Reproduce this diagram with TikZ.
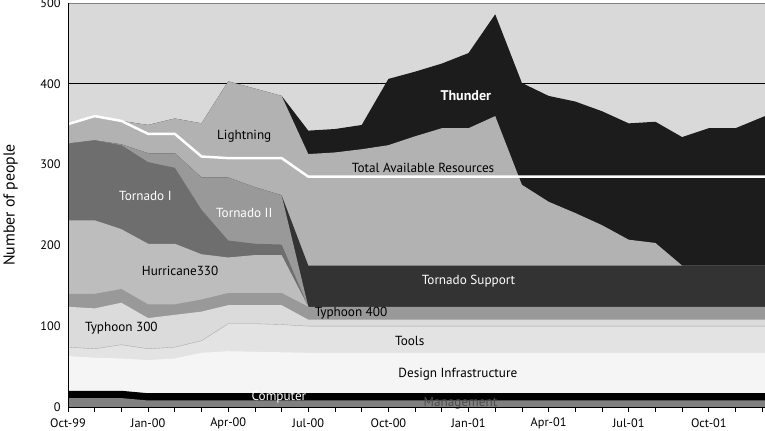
\documentclass[tikz,border=0pt]{standalone}
\usepackage{fontspec}
\setmainfont{PT Sans}
\usetikzlibrary{positioning}

\definecolor{bggrey}{gray}{0.85}
\definecolor{thundergrey}{gray}{0.11}
\definecolor{lightninggrey}{gray}{0.70}
\definecolor{supportgrey}{gray}{0.20}
\definecolor{tornadotwogrey}{gray}{0.60}
\definecolor{tornadoonegrey}{gray}{0.43}
\definecolor{hurricanegrey}{gray}{0.74}
\definecolor{typhoonfourgrey}{gray}{0.60}
\definecolor{typhoonthreegrey}{gray}{0.86}
\definecolor{toolsgrey}{gray}{0.89}
\definecolor{designgrey}{gray}{0.96}
\definecolor{mgmtgrey}{gray}{0.50}

\newcommand{\stackarea}[2]{\fill[#1] (0,0) -- plot coordinates {#2} |- (0,0) -- cycle;}

\begin{document}
\begin{tikzpicture}[
            x=0.534cm, y=0.01616cm,
            lbl/.style={font=\fontsize{7.5}{9}\selectfont, inner sep=1pt},
            wlbl/.style={lbl, text=white},
            tick/.style={font=\fontsize{7}{8}\selectfont, inner sep=1pt}
        ]
        \useasboundingbox (-2.547,-29.7) rectangle (26.105,503.7);

        % Sfondo e griglia
        \fill[bggrey, draw=gray] (0,0) rectangle (26.1,500);
        \draw[black, thin] (0,400) -- (26.1,400);

        % Aree impilate, dall'alto in basso
        \stackarea{thundergrey}{(0,350) (1,360) (2,354) (3,349) (4,357) (5,351) (6,403) (7,394) (8,385) (9,342) (10,344) (11,349) (12,406) (13,415) (14,425) (15,438) (16,486) (17,401) (18,385) (19,378) (20,366) (21,351) (22,353) (23,334) (24,345) (25,345) (26.1,360)}
        \stackarea{lightninggrey}{(0,350) (1,360) (2,354) (3,349) (4,357) (5,351) (6,403) (7,394) (8,385) (9,313) (10,315) (11,319) (12,324) (13,335) (14,345) (15,345) (16,360) (17,275) (18,254) (19,240) (20,225) (21,207) (22,203) (23,175) (24,175) (25,175) (26.1,175)}
        \stackarea{supportgrey}{(0,326) (1,330) (2,325) (3,314) (4,314) (5,284) (6,284) (7,272) (8,262) (9,175) (26.1,175)}
        \stackarea{tornadotwogrey}{(0,326) (1,330) (2,325) (3,314) (4,314) (5,284) (6,284) (7,272) (8,262) (9,124)}
        \stackarea{tornadoonegrey}{(0,326) (1,330) (2,324) (3,303) (4,296) (5,244) (6,206) (7,202) (8,201) (9,124)}
        \stackarea{hurricanegrey}{(0,231) (1,231) (2,220) (3,202) (4,202) (5,189) (6,185) (7,188) (8,188) (9,124)}
        \stackarea{typhoonfourgrey}{(0,140) (1,140) (2,146) (3,127) (4,127) (5,133) (6,141) (7,141) (8,141) (9,124) (26.1,124)}
        \stackarea{typhoonthreegrey}{(0,124) (1,122) (2,129) (3,110) (4,114) (5,118) (6,126) (7,126) (8,126) (9,108) (26.1,108)}
        \stackarea{toolsgrey}{(0,74) (1,72) (2,77) (3,72) (4,74) (5,82) (6,103) (7,103) (8,102) (9,100) (26.1,100)}
        \draw[gray!70, very thin] plot coordinates {(0,74) (1,72) (2,77) (3,72) (4,74) (5,82) (6,103) (7,103) (8,102) (9,100) (26.1,100)};
        \stackarea{designgrey}{(0,63) (1,61) (2,60) (3,58) (4,60) (5,67) (6,69) (9,67) (26.1,67)}
        \stackarea{black}{(0,20) (2,20) (3,17) (26.1,17)}
        \stackarea{mgmtgrey}{(0,11) (2,11) (3,8) (26.1,8)}

        % Risorse disponibili
        \draw[white, line width=1.4pt] plot coordinates {(0,350) (1,360) (2,354) (3,338) (4,338) (5,310) (6,308) (8,308) (9,285) (26.1,285)};

        % Etichette delle aree
        \node[lbl] (lightning) at (6.6,335) {Lightning};
        \node[wlbl, font=\fontsize{8}{9}\selectfont\bfseries] (thunder) at (14.9,385) {Thunder};
        \node[lbl] (resources) at (13.3,296) {Total Available Resources};
        \node[wlbl] (tornadoone) at (2.9,261) {Tornado I};
        \node[wlbl] (tornadotwo) at (6.6,240) {Tornado II};
        \node[lbl] (hurricane) at (4.2,168) {Hurricane330};
        \node[wlbl] (support) at (15,156) {Tornado Support};
        \node[lbl] (typhoonfour) at (10.6,116) {Typhoon 400};
        \node[lbl] (typhoonthree) at (2.0,98) {Typhoon 300};
        \node[lbl] (tools) at (12.8,82) {Tools};
        \node[lbl] (design) at (14.6,40) {Design Infrastructure};
        \node[wlbl] (computer) at (7.9,12) {Computer};
        \node[lbl, text=gray!60!black] (management) at (14.7,4) {Management};

        % Assi
        \draw[black] (0,0) -- (0,500);
        \draw[black] (0,0) -- (26.1,0);
        \foreach \m in {0,...,26} \draw[black] (\m,0) -- (\m,-6);
        \foreach \v in {0,100,...,500} \node[tick, anchor=east] (ylab\v) at (-0.2,\v) {\v};
        \foreach \m/\t in {0/Oct-99,3/Jan-00,6/Apr-00,9/Jul-00,12/Oct-00,15/Jan-01,18/Apr-01,21/Jul-01,24/Oct-01}
            \node[tick] (xlab\m) at (\m,-20) {\t};
        \node[rotate=90, font=\fontsize{9}{10}\selectfont] (ylabel) at (-2.15,250) {Number of people};
\end{tikzpicture}
\end{document}
